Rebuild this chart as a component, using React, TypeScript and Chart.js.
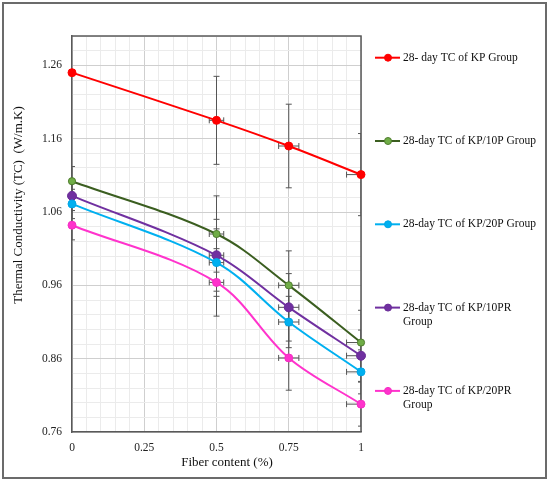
import React, { useEffect, useRef } from 'react';
import { Chart, registerables } from 'chart.js';

Chart.register(...registerables);

// ---------- data ----------
const fiberContent = [0, 0.5, 0.75, 1];

const seriesLabels = [
  ['28- day TC of KP Group'],
  ['28-day TC of KP/10P Group'],
  ['28-day TC of KP/20P Group'],
  ['28-day TC of KP/10PR', 'Group'],
  ['28-day TC of KP/20PR', 'Group'],
];

const tcKP = [1.25, 1.185, 1.15, 1.111];
const tcKP10P = [1.102, 1.03, 0.96, 0.882];
const tcKP20P = [1.071, 0.991, 0.91, 0.842];
const tcKP10PR = [1.082, 1.001, 0.93, 0.864];
const tcKP20PR = [1.042, 0.964, 0.861, 0.798];

const errKP = [0, 0.06, 0.057, 0.056];
const errKP10P = [0.02, 0.052, 0.047, 0.044];
const errKP20P = [0.02, 0.046, 0.035, 0.03];
const errKP10PR = [0.02, 0.049, 0.046, 0.035];
const errKP20PR = [0.02, 0.046, 0.044, 0.03];

const errFiber = [0, 0.025, 0.035, 0.05];

const xTickLabels = ['0', '0.25', '0.5', '0.75', '1'];
const yTickLabels = ['0.76', '0.86', '0.96', '1.06', '1.16', '1.26'];

const xTitle = 'Fiber content (%)';
const yTitle = 'Thermal Conductivity (TC)  (W/m.K)';

const seriesValues = [tcKP, tcKP10P, tcKP20P, tcKP10PR, tcKP20PR];
const seriesErr = [errKP, errKP10P, errKP20P, errKP10PR, errKP20PR];

// ---------- styles ----------
const FONT = "'Liberation Serif', 'Times New Roman', serif";
const styles = [
  { line: '#ff0000', fill: '#ff0000', edge: '#ff0000', r: 4 },
  { line: '#3b5e20', fill: '#70ad47', edge: '#4f7d2e', r: 3.6 },
  { line: '#00b0f0', fill: '#00b0f0', edge: '#00a6e6', r: 4 },
  { line: '#7030a0', fill: '#7030a0', edge: '#6a2c98', r: 4.5 },
  { line: '#ff33cc', fill: '#ff33cc', edge: '#f52ec4', r: 4 },
];

const X_MIN = 0, X_MAX = 1, X_STEP = 0.05;
const Y_MIN = 0.76, Y_MAX = 1.3, Y_STEP = 0.02;

const gridValues = (min: number, max: number, step: number) => {
  const out: number[] = [];
  const n = Math.round((max - min) / step);
  for (let i = 0; i <= n; i++) out.push(Number((min + i * step).toFixed(4)));
  return out;
};

const xLabelOf = (v: number) => {
  const s = String(Math.round(v * 100) / 100);
  return xTickLabels.includes(s) ? s : '';
};
const yLabelOf = (v: number) => {
  const s = v.toFixed(2);
  return yTickLabels.includes(s) ? s : '';
};

const decorPlugin = {
  id: 'decor',
  beforeDraw(chart: any) {
    const { ctx } = chart;
    ctx.save();
    ctx.fillStyle = '#ffffff';
    ctx.fillRect(0, 0, chart.width, chart.height);
    ctx.restore();
  },
  beforeDatasetsDraw(chart: any) {
    const { ctx, chartArea: a } = chart;
    const xs = chart.scales.x;
    const ys = chart.scales.y;
    ctx.save();
    ctx.strokeStyle = '#595959';
    ctx.lineWidth = 1.5;
    ctx.beginPath();
    ctx.moveTo(a.left, a.top);
    ctx.lineTo(a.right, a.top);
    ctx.lineTo(a.right, a.bottom);
    ctx.stroke();

    ctx.beginPath();
    ctx.rect(a.left, 0, a.right - a.left, chart.height);
    ctx.clip();
    ctx.strokeStyle = '#555555';
    ctx.lineWidth = 1;
    const cap = 3;
    seriesValues.forEach((vals, si) => {
      vals.forEach((v, i) => {
        const xv = fiberContent[i];
        const px = xs.getPixelForValue(xv);
        const py = ys.getPixelForValue(v);
        const ey = seriesErr[si][i];
        if (ey > 0) {
          const t = ys.getPixelForValue(v + ey);
          const b = ys.getPixelForValue(v - ey);
          ctx.beginPath();
          ctx.moveTo(px, t); ctx.lineTo(px, b);
          ctx.moveTo(px - cap, t); ctx.lineTo(px + cap, t);
          ctx.moveTo(px - cap, b); ctx.lineTo(px + cap, b);
          ctx.stroke();
        }
        const ex = errFiber[i];
        if (ex > 0) {
          const l = xs.getPixelForValue(xv - ex);
          const r = xs.getPixelForValue(xv + ex);
          ctx.beginPath();
          ctx.moveTo(l, py); ctx.lineTo(r, py);
          ctx.moveTo(l, py - cap); ctx.lineTo(l, py + cap);
          ctx.moveTo(r, py - cap); ctx.lineTo(r, py + cap);
          ctx.stroke();
        }
      });
    });
    ctx.restore();
  },
  afterDraw(chart: any) {
    const { ctx } = chart;
    ctx.save();
    // legend
    ctx.font = `11.5px ${FONT}`;
    ctx.textBaseline = 'middle';
    ctx.textAlign = 'left';
    seriesLabels.forEach((lines, i) => {
      const st = styles[i];
      const y = 57.7 + i * 83.3;
      ctx.strokeStyle = st.line;
      ctx.lineWidth = 2;
      ctx.beginPath();
      ctx.moveTo(375, y); ctx.lineTo(400, y);
      ctx.stroke();
      ctx.beginPath();
      ctx.arc(388, y, 3.5, 0, Math.PI * 2);
      ctx.fillStyle = st.fill;
      ctx.fill();
      ctx.lineWidth = 1;
      ctx.strokeStyle = st.edge;
      ctx.stroke();
      ctx.fillStyle = '#111111';
      lines.forEach((t, li) => ctx.fillText(t, 403, y + li * 14.5));
    });
    // axis titles
    ctx.fillStyle = '#111111';
    ctx.font = `13px ${FONT}`;
    ctx.textAlign = 'center';
    ctx.textBaseline = 'middle';
    ctx.fillText(xTitle, 227, 463);
    ctx.save();
    ctx.translate(19, 205);
    ctx.rotate(-Math.PI / 2);
    ctx.fillText(yTitle, 0, 0);
    ctx.restore();
    // outer frame
    ctx.strokeStyle = '#6b6b6b';
    ctx.lineWidth = 2;
    ctx.strokeRect(3, 3, 543, 475);
    ctx.restore();
  },
};

export default function App() {
  const ref = useRef<HTMLCanvasElement>(null);
  useEffect(() => {
    if (!ref.current) return;
    const datasets = seriesValues.map((vals, si) => ({
      label: seriesLabels[si].join(' '),
      data: vals.map((v, i) => ({ x: fiberContent[i], y: v })),
      borderColor: styles[si].line,
      backgroundColor: styles[si].fill,
      pointBackgroundColor: styles[si].fill,
      pointBorderColor: styles[si].edge,
      pointBorderWidth: 1,
      pointRadius: styles[si].r,
      borderWidth: 2,
      tension: 0.35,
      clip: false as any,
      fill: false,
    }));
    const chart = new Chart(ref.current, {
      type: 'line',
      data: { datasets },
      options: {
        responsive: false,
        animation: false,
        layout: { padding: { left: 0, top: 36, right: 189, bottom: 0 } },
        plugins: {
          legend: { display: false },
          tooltip: { enabled: false },
          title: { display: false },
        },
        scales: {
          x: {
            type: 'linear',
            min: X_MIN,
            max: X_MAX,
            afterBuildTicks: (s: any) => {
              s.ticks = gridValues(X_MIN, X_MAX, X_STEP).map((v) => ({ value: v }));
            },
            afterFit: (s: any) => { s.height = 49; },
            ticks: {
              autoSkip: false,
              maxRotation: 0,
              minRotation: 0,
              padding: 9,
              color: '#222222',
              font: { family: FONT, size: 11.5 },
              callback: (v: any) => xLabelOf(Number(v)),
            },
            grid: {
              drawTicks: false,
              lineWidth: 1,
              color: (c: any) => (xLabelOf(c.tick.value) ? '#cfcfcf' : '#ebebeb'),
            },
            border: { display: true, color: '#595959', width: 1.5 },
          },
          y: {
            type: 'linear',
            min: Y_MIN,
            max: Y_MAX,
            afterBuildTicks: (s: any) => {
              s.ticks = gridValues(Y_MIN, Y_MAX, Y_STEP).map((v) => ({ value: v }));
            },
            afterFit: (s: any) => { s.width = 72; },
            ticks: {
              autoSkip: false,
              padding: 10,
              color: '#222222',
              font: { family: FONT, size: 11.5 },
              callback: (v: any) => yLabelOf(Number(v)),
            },
            grid: {
              drawTicks: false,
              lineWidth: 1,
              color: (c: any) => (yLabelOf(c.tick.value) ? '#cfcfcf' : '#ebebeb'),
            },
            border: { display: true, color: '#595959', width: 1.5 },
          },
        },
      },
      plugins: [decorPlugin],
    });
    return () => chart.destroy();
  }, []);
  return (
    <div style={{ position: 'absolute', left: 0, top: 0, width: 550, height: 481 }}>
      <canvas ref={ref} width={550} height={481} style={{ display: 'block', width: 550, height: 481 }} />
    </div>
  );
}
